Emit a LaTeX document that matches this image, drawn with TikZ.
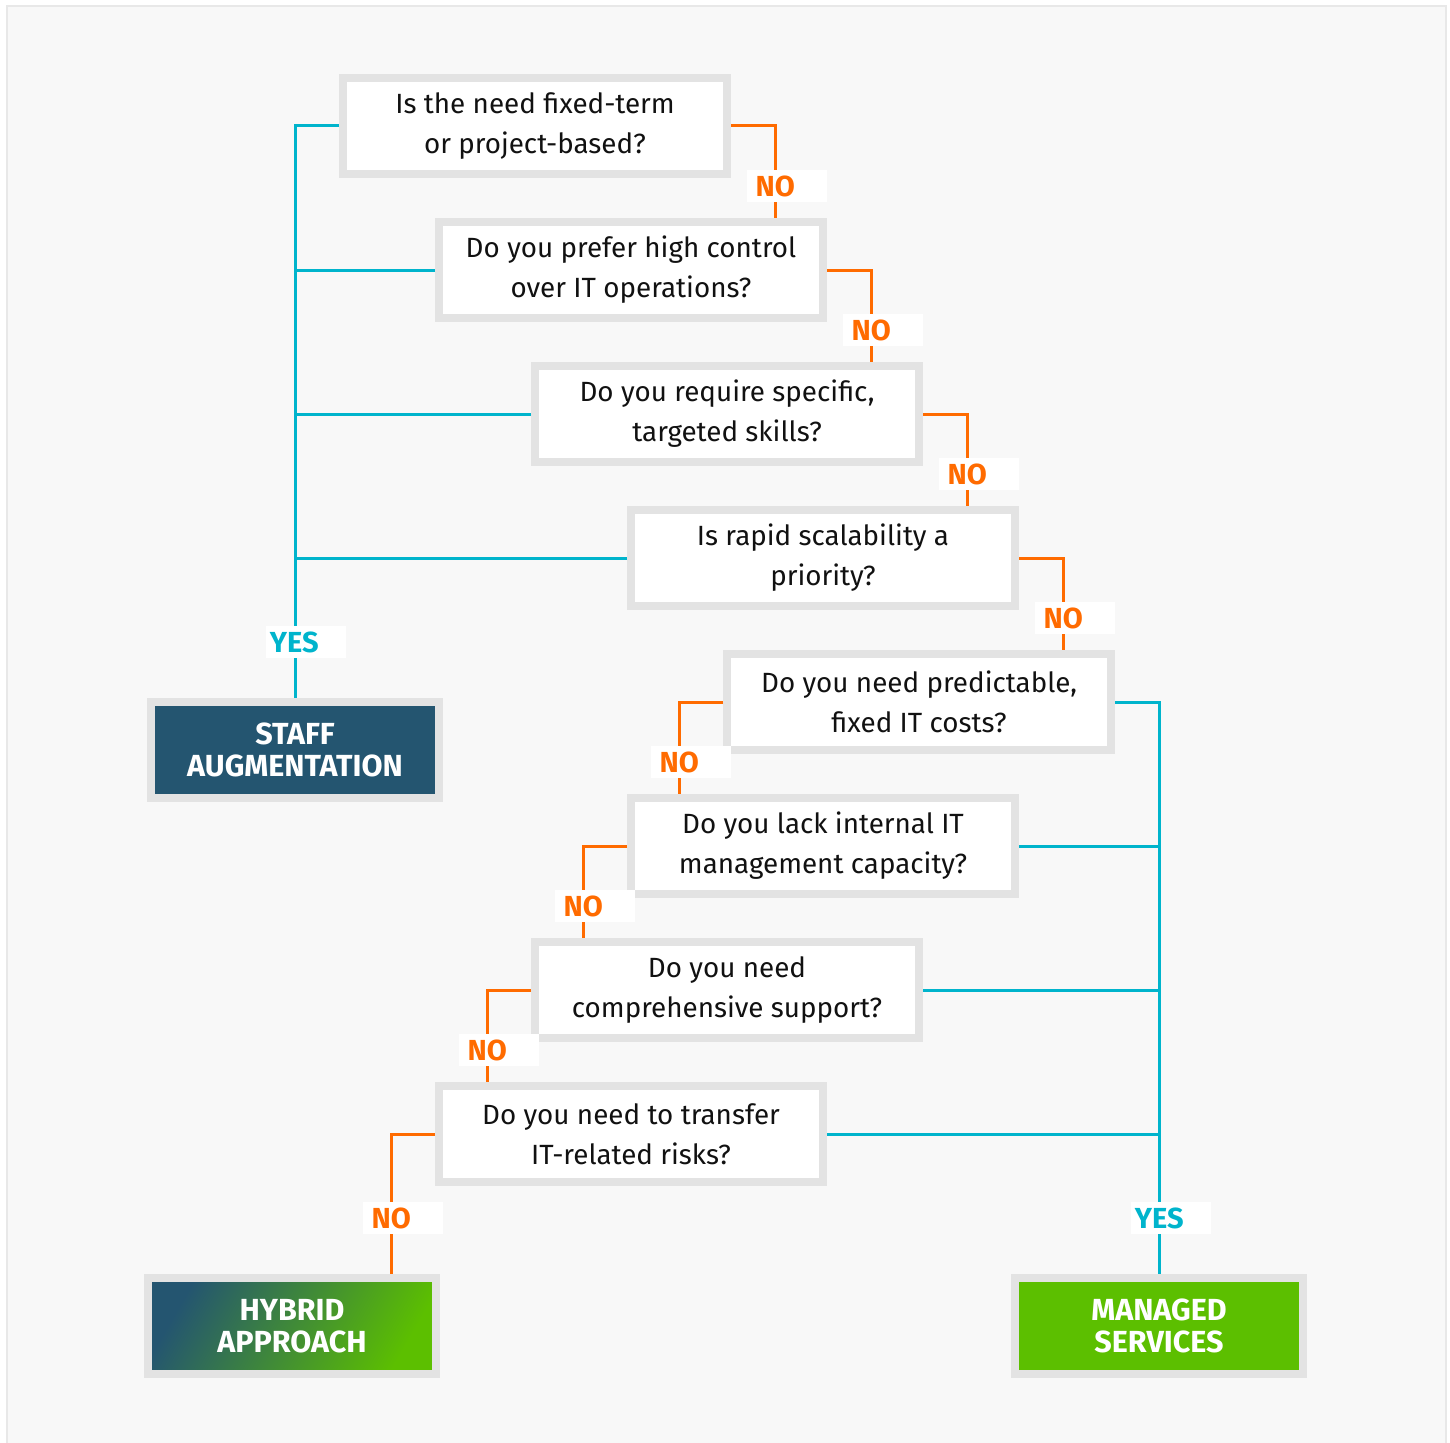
\documentclass[tikz,border=0pt]{standalone}
\usepackage{fontspec}
\setmainfont{Fira Sans}
\usetikzlibrary{positioning}
\definecolor{bgc}{HTML}{F8F8F8}
\definecolor{framec}{HTML}{E8E8E8}
\definecolor{boxgray}{HTML}{E3E3E3}
\definecolor{cyanl}{HTML}{00B4CC}
\definecolor{orangel}{HTML}{FF6B00}
\definecolor{darkblue}{HTML}{245570}
\definecolor{greenm}{HTML}{5CBF00}
\definecolor{txt}{HTML}{111111}
\tikzset{
  qbox/.style={draw=boxgray, line width=8pt, fill=white, minimum width=384pt, minimum height=96pt,
    inner sep=0pt, align=center, text=txt, font=\fontsize{27.8}{40}\selectfont},
  termbox/.style={draw=boxgray, line width=8pt, minimum width=288pt, minimum height=96pt,
    inner sep=0pt, align=center, text=white, font=\fontsize{30.5}{32}\selectfont\bfseries},
  yesline/.style={draw=cyanl, line width=3pt},
  noline/.style={draw=orangel, line width=3pt},
  lbl/.style={fill=white, inner sep=0pt, minimum height=32pt, minimum width=80pt, font=\fontsize{29}{32}\selectfont\bfseries},
}
\newcommand{\lbltext}[1]{\makebox[80pt][l]{\makebox[56pt][c]{#1}}}
\begin{document}
\begin{tikzpicture}[x=1pt,y=-1pt]
\useasboundingbox (0,0) rectangle (1450,1442);
\fill[white] (0,0) rectangle (1450,1442);
\draw[framec, fill=bgc, line width=2pt] (7,6) rectangle (1446,1450);

% questions
\node[qbox] (b1) at (535,126) {Is the need fixed-term\\or project-based?};
\node[qbox] (b2) at (631,270) {Do you prefer high control\\over IT operations?};
\node[qbox] (b3) at (727,414) {Do you require specific,\\targeted skills?};
\node[qbox] (b4) at (823,558) {Is rapid scalability a\\priority?};
\node[qbox] (b5) at (919,702) {Do you need predictable,\\fixed IT costs?};
\node[qbox] (b6) at (823,846) {Do you lack internal IT\\management capacity?};
\node[qbox] (b7) at (727,990) {Do you need\\comprehensive support?};
\node[qbox] (b8) at (631,1134) {Do you need to transfer\\IT-related risks?};

% outcomes
\node[termbox, fill=darkblue] (staff) at (295,750) {STAFF\\AUGMENTATION};
\node[termbox, left color=darkblue, right color=greenm, shading angle=60] (hybrid) at (292,1326) {HYBRID\\APPROACH};
\node[termbox, fill=greenm] (managed) at (1159,1326) {MANAGED\\SERVICES};

% YES to staff augmentation
\draw[yesline] (b1.west) -| (staff.north);
\draw[yesline] (b2.west) -- (b2.west -| staff.north);
\draw[yesline] (b3.west) -- (b3.west -| staff.north);
\draw[yesline] (b4.west) -- (b4.west -| staff.north);

% NO chain downward right
\draw[noline] (b1.east) -| ([xshift=-52pt]b2.north east);
\draw[noline] (b2.east) -| ([xshift=-52pt]b3.north east);
\draw[noline] (b3.east) -| ([xshift=-52pt]b4.north east);
\draw[noline] (b4.east) -| ([xshift=-52pt]b5.north east);

% NO chain downward left
\draw[noline] (b5.west) -| ([xshift=52pt]b6.north west);
\draw[noline] (b6.west) -| ([xshift=52pt]b7.north west);
\draw[noline] (b7.west) -| ([xshift=52pt]b8.north west);
\draw[noline] (b8.west) -| ([xshift=247pt]hybrid.north west);

% YES to managed services
\draw[yesline] (b5.east) -| (managed.north);
\draw[yesline] (b6.east) -- (b6.east -| managed.north);
\draw[yesline] (b7.east) -- (b7.east -| managed.north);
\draw[yesline] (b8.east) -- (b8.east -| managed.north);

% labels
\node[lbl, text=orangel, anchor=west] (n1) at (747,186) {\lbltext{NO}};
\node[lbl, text=orangel, anchor=west] (n2) at (843,330) {\lbltext{NO}};
\node[lbl, text=orangel, anchor=west] (n3) at (939,474) {\lbltext{NO}};
\node[lbl, text=orangel, anchor=west] (n4) at (1035,618) {\lbltext{NO}};
\node[lbl, text=orangel, anchor=west] (n5) at (651,762) {\lbltext{NO}};
\node[lbl, text=orangel, anchor=west] (n6) at (555,906) {\lbltext{NO}};
\node[lbl, text=orangel, anchor=west] (n7) at (459,1050) {\lbltext{NO}};
\node[lbl, text=orangel, anchor=west] (n8) at (363,1218) {\lbltext{NO}};
\node[lbl, text=cyanl, anchor=west] (y1) at (266,642) {\lbltext{YES}};
\node[lbl, text=cyanl, anchor=west] (y2) at (1131,1218) {\lbltext{YES}};
\end{tikzpicture}
\end{document}
